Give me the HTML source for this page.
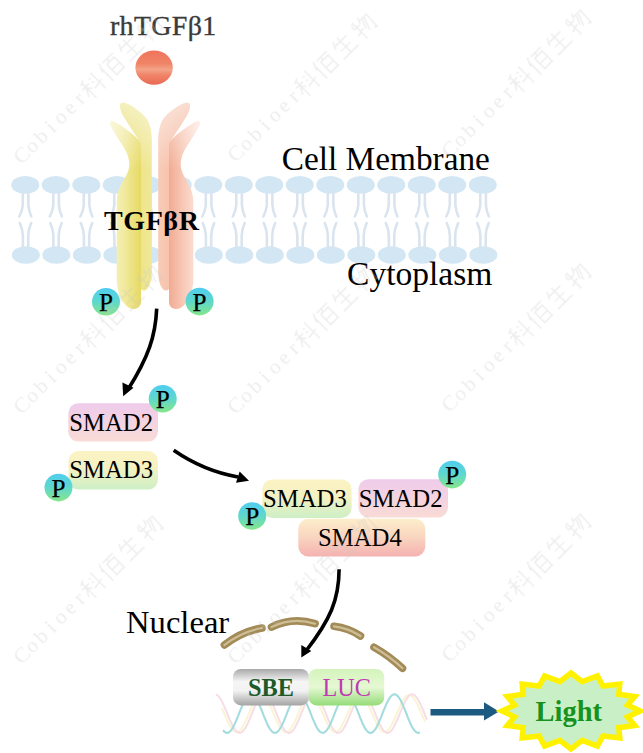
<!DOCTYPE html>
<html><head><meta charset="utf-8">
<style>
html,body{margin:0;padding:0;background:#fff;}
body{width:643px;height:753px;overflow:hidden;}
svg{display:block;}
text{font-family:"Liberation Serif",serif;}
</style></head>
<body>
<svg width="643" height="753" viewBox="0 0 643 753">
<defs>
  <linearGradient id="gP" x1="0" y1="0" x2="0" y2="1">
    <stop offset="0" stop-color="#4fcdf0"/>
    <stop offset="0.5" stop-color="#5fd8cc"/>
    <stop offset="1" stop-color="#86e68a"/>
  </linearGradient>
  <linearGradient id="gBall" x1="0" y1="0" x2="0" y2="1">
    <stop offset="0" stop-color="#f0735b"/>
    <stop offset="0.38" stop-color="#f08467"/>
    <stop offset="0.56" stop-color="#f3a387"/>
    <stop offset="0.72" stop-color="#f08468"/>
    <stop offset="1" stop-color="#ea6a55"/>
  </linearGradient>
  <linearGradient id="gYF" x1="0" y1="0" x2="1" y2="0">
    <stop offset="0" stop-color="#f7f3c6"/>
    <stop offset="0.45" stop-color="#f1eaa0"/>
    <stop offset="0.85" stop-color="#e9de72"/>
    <stop offset="1" stop-color="#e6d966"/>
  </linearGradient>
  <linearGradient id="gYB" x1="0" y1="0" x2="1" y2="0">
    <stop offset="0" stop-color="#e9dd70"/>
    <stop offset="1" stop-color="#f0e898"/>
  </linearGradient>
  <linearGradient id="gSF" x1="0" y1="0" x2="1" y2="0">
    <stop offset="0" stop-color="#fde7df"/>
    <stop offset="0.45" stop-color="#f9cebe"/>
    <stop offset="1" stop-color="#f1ab92"/>
  </linearGradient>
  <linearGradient id="gSB" x1="0" y1="0" x2="1" y2="0">
    <stop offset="0" stop-color="#f3b59c"/>
    <stop offset="1" stop-color="#f8cbb6"/>
  </linearGradient>
  <linearGradient id="gFade" gradientUnits="userSpaceOnUse" x1="0" y1="100" x2="0" y2="170">
    <stop offset="0" stop-color="#fff" stop-opacity="0.55"/>
    <stop offset="1" stop-color="#fff" stop-opacity="0"/>
  </linearGradient>
  <linearGradient id="gPink" x1="0" y1="0" x2="0" y2="1">
    <stop offset="0" stop-color="#efcbeb"/>
    <stop offset="1" stop-color="#f9dbd6"/>
  </linearGradient>
  <linearGradient id="gYG" x1="0" y1="0" x2="0" y2="1">
    <stop offset="0" stop-color="#fcf3c4"/>
    <stop offset="0.45" stop-color="#f5f1c2"/>
    <stop offset="1" stop-color="#cdefc6"/>
  </linearGradient>
  <linearGradient id="gS4" x1="0" y1="0" x2="0" y2="1">
    <stop offset="0" stop-color="#fdeecb"/>
    <stop offset="0.5" stop-color="#f9d4bf"/>
    <stop offset="1" stop-color="#f4b2b0"/>
  </linearGradient>
  <linearGradient id="gSBE" x1="0" y1="0" x2="0" y2="1">
    <stop offset="0" stop-color="#a9a9a9"/>
    <stop offset="0.35" stop-color="#f6f6f6"/>
    <stop offset="0.6" stop-color="#f2f2f2"/>
    <stop offset="1" stop-color="#a4a4a4"/>
  </linearGradient>
  <linearGradient id="gLUC" x1="0" y1="0" x2="0" y2="1">
    <stop offset="0" stop-color="#d4f4bc"/>
    <stop offset="0.5" stop-color="#e6f8d4"/>
    <stop offset="1" stop-color="#94dc78"/>
  </linearGradient>
</defs>

<!-- membrane -->
<g id="mem">
<ellipse cx="25.25" cy="184.9" rx="14" ry="8.9" fill="#d2e6f4"/>
<ellipse cx="25.85" cy="255" rx="14" ry="8.8" fill="#d2e6f4"/>
<path d="M22.80,194 L22.80,205 Q22.30,211 19.30,216.5 M28.40,194 L28.40,205 Q28.80,211 31.40,216.5" stroke="#dae4ef" stroke-width="2.6" fill="none" stroke-linecap="round"/>
<path d="M19.80,223 Q22.60,229 22.90,236 L22.90,247 M31.20,223 Q28.40,229 28.20,236 L28.20,247" stroke="#dae4ef" stroke-width="2.6" fill="none" stroke-linecap="round"/>
<ellipse cx="55.75" cy="184.9" rx="14" ry="8.9" fill="#d2e6f4"/>
<ellipse cx="56.35" cy="255" rx="14" ry="8.8" fill="#d2e6f4"/>
<path d="M53.30,194 L53.30,205 Q52.80,211 49.80,216.5 M58.90,194 L58.90,205 Q59.30,211 61.90,216.5" stroke="#dae4ef" stroke-width="2.6" fill="none" stroke-linecap="round"/>
<path d="M50.30,223 Q53.10,229 53.40,236 L53.40,247 M61.70,223 Q58.90,229 58.70,236 L58.70,247" stroke="#dae4ef" stroke-width="2.6" fill="none" stroke-linecap="round"/>
<ellipse cx="86.25" cy="184.9" rx="14" ry="8.9" fill="#d2e6f4"/>
<ellipse cx="86.85" cy="255" rx="14" ry="8.8" fill="#d2e6f4"/>
<path d="M83.80,194 L83.80,205 Q83.30,211 80.30,216.5 M89.40,194 L89.40,205 Q89.80,211 92.40,216.5" stroke="#dae4ef" stroke-width="2.6" fill="none" stroke-linecap="round"/>
<path d="M80.80,223 Q83.60,229 83.90,236 L83.90,247 M92.20,223 Q89.40,229 89.20,236 L89.20,247" stroke="#dae4ef" stroke-width="2.6" fill="none" stroke-linecap="round"/>
<ellipse cx="116.75" cy="184.9" rx="14" ry="8.9" fill="#d2e6f4"/>
<ellipse cx="117.35" cy="255" rx="14" ry="8.8" fill="#d2e6f4"/>
<path d="M114.30,194 L114.30,205 Q113.80,211 110.80,216.5 M119.90,194 L119.90,205 Q120.30,211 122.90,216.5" stroke="#dae4ef" stroke-width="2.6" fill="none" stroke-linecap="round"/>
<path d="M111.30,223 Q114.10,229 114.40,236 L114.40,247 M122.70,223 Q119.90,229 119.70,236 L119.70,247" stroke="#dae4ef" stroke-width="2.6" fill="none" stroke-linecap="round"/>
<ellipse cx="147.25" cy="184.9" rx="14" ry="8.9" fill="#d2e6f4"/>
<ellipse cx="147.85" cy="255" rx="14" ry="8.8" fill="#d2e6f4"/>
<path d="M144.80,194 L144.80,205 Q144.30,211 141.30,216.5 M150.40,194 L150.40,205 Q150.80,211 153.40,216.5" stroke="#dae4ef" stroke-width="2.6" fill="none" stroke-linecap="round"/>
<path d="M141.80,223 Q144.60,229 144.90,236 L144.90,247 M153.20,223 Q150.40,229 150.20,236 L150.20,247" stroke="#dae4ef" stroke-width="2.6" fill="none" stroke-linecap="round"/>
<ellipse cx="177.75" cy="184.9" rx="14" ry="8.9" fill="#d2e6f4"/>
<ellipse cx="178.35" cy="255" rx="14" ry="8.8" fill="#d2e6f4"/>
<path d="M175.30,194 L175.30,205 Q174.80,211 171.80,216.5 M180.90,194 L180.90,205 Q181.30,211 183.90,216.5" stroke="#dae4ef" stroke-width="2.6" fill="none" stroke-linecap="round"/>
<path d="M172.30,223 Q175.10,229 175.40,236 L175.40,247 M183.70,223 Q180.90,229 180.70,236 L180.70,247" stroke="#dae4ef" stroke-width="2.6" fill="none" stroke-linecap="round"/>
<ellipse cx="208.25" cy="184.9" rx="14" ry="8.9" fill="#d2e6f4"/>
<ellipse cx="208.85" cy="255" rx="14" ry="8.8" fill="#d2e6f4"/>
<path d="M205.80,194 L205.80,205 Q205.30,211 202.30,216.5 M211.40,194 L211.40,205 Q211.80,211 214.40,216.5" stroke="#dae4ef" stroke-width="2.6" fill="none" stroke-linecap="round"/>
<path d="M202.80,223 Q205.60,229 205.90,236 L205.90,247 M214.20,223 Q211.40,229 211.20,236 L211.20,247" stroke="#dae4ef" stroke-width="2.6" fill="none" stroke-linecap="round"/>
<ellipse cx="238.75" cy="184.9" rx="14" ry="8.9" fill="#d2e6f4"/>
<ellipse cx="239.35" cy="255" rx="14" ry="8.8" fill="#d2e6f4"/>
<path d="M236.30,194 L236.30,205 Q235.80,211 232.80,216.5 M241.90,194 L241.90,205 Q242.30,211 244.90,216.5" stroke="#dae4ef" stroke-width="2.6" fill="none" stroke-linecap="round"/>
<path d="M233.30,223 Q236.10,229 236.40,236 L236.40,247 M244.70,223 Q241.90,229 241.70,236 L241.70,247" stroke="#dae4ef" stroke-width="2.6" fill="none" stroke-linecap="round"/>
<ellipse cx="269.25" cy="184.9" rx="14" ry="8.9" fill="#d2e6f4"/>
<ellipse cx="269.85" cy="255" rx="14" ry="8.8" fill="#d2e6f4"/>
<path d="M266.80,194 L266.80,205 Q266.30,211 263.30,216.5 M272.40,194 L272.40,205 Q272.80,211 275.40,216.5" stroke="#dae4ef" stroke-width="2.6" fill="none" stroke-linecap="round"/>
<path d="M263.80,223 Q266.60,229 266.90,236 L266.90,247 M275.20,223 Q272.40,229 272.20,236 L272.20,247" stroke="#dae4ef" stroke-width="2.6" fill="none" stroke-linecap="round"/>
<ellipse cx="299.75" cy="184.9" rx="14" ry="8.9" fill="#d2e6f4"/>
<ellipse cx="300.35" cy="255" rx="14" ry="8.8" fill="#d2e6f4"/>
<path d="M297.30,194 L297.30,205 Q296.80,211 293.80,216.5 M302.90,194 L302.90,205 Q303.30,211 305.90,216.5" stroke="#dae4ef" stroke-width="2.6" fill="none" stroke-linecap="round"/>
<path d="M294.30,223 Q297.10,229 297.40,236 L297.40,247 M305.70,223 Q302.90,229 302.70,236 L302.70,247" stroke="#dae4ef" stroke-width="2.6" fill="none" stroke-linecap="round"/>
<ellipse cx="330.25" cy="184.9" rx="14" ry="8.9" fill="#d2e6f4"/>
<ellipse cx="330.85" cy="255" rx="14" ry="8.8" fill="#d2e6f4"/>
<path d="M327.80,194 L327.80,205 Q327.30,211 324.30,216.5 M333.40,194 L333.40,205 Q333.80,211 336.40,216.5" stroke="#dae4ef" stroke-width="2.6" fill="none" stroke-linecap="round"/>
<path d="M324.80,223 Q327.60,229 327.90,236 L327.90,247 M336.20,223 Q333.40,229 333.20,236 L333.20,247" stroke="#dae4ef" stroke-width="2.6" fill="none" stroke-linecap="round"/>
<ellipse cx="360.75" cy="184.9" rx="14" ry="8.9" fill="#d2e6f4"/>
<ellipse cx="361.35" cy="255" rx="14" ry="8.8" fill="#d2e6f4"/>
<path d="M358.30,194 L358.30,205 Q357.80,211 354.80,216.5 M363.90,194 L363.90,205 Q364.30,211 366.90,216.5" stroke="#dae4ef" stroke-width="2.6" fill="none" stroke-linecap="round"/>
<path d="M355.30,223 Q358.10,229 358.40,236 L358.40,247 M366.70,223 Q363.90,229 363.70,236 L363.70,247" stroke="#dae4ef" stroke-width="2.6" fill="none" stroke-linecap="round"/>
<ellipse cx="391.25" cy="184.9" rx="14" ry="8.9" fill="#d2e6f4"/>
<ellipse cx="391.85" cy="255" rx="14" ry="8.8" fill="#d2e6f4"/>
<path d="M388.80,194 L388.80,205 Q388.30,211 385.30,216.5 M394.40,194 L394.40,205 Q394.80,211 397.40,216.5" stroke="#dae4ef" stroke-width="2.6" fill="none" stroke-linecap="round"/>
<path d="M385.80,223 Q388.60,229 388.90,236 L388.90,247 M397.20,223 Q394.40,229 394.20,236 L394.20,247" stroke="#dae4ef" stroke-width="2.6" fill="none" stroke-linecap="round"/>
<ellipse cx="421.75" cy="184.9" rx="14" ry="8.9" fill="#d2e6f4"/>
<ellipse cx="422.35" cy="255" rx="14" ry="8.8" fill="#d2e6f4"/>
<path d="M419.30,194 L419.30,205 Q418.80,211 415.80,216.5 M424.90,194 L424.90,205 Q425.30,211 427.90,216.5" stroke="#dae4ef" stroke-width="2.6" fill="none" stroke-linecap="round"/>
<path d="M416.30,223 Q419.10,229 419.40,236 L419.40,247 M427.70,223 Q424.90,229 424.70,236 L424.70,247" stroke="#dae4ef" stroke-width="2.6" fill="none" stroke-linecap="round"/>
<ellipse cx="452.25" cy="184.9" rx="14" ry="8.9" fill="#d2e6f4"/>
<ellipse cx="452.85" cy="255" rx="14" ry="8.8" fill="#d2e6f4"/>
<path d="M449.80,194 L449.80,205 Q449.30,211 446.30,216.5 M455.40,194 L455.40,205 Q455.80,211 458.40,216.5" stroke="#dae4ef" stroke-width="2.6" fill="none" stroke-linecap="round"/>
<path d="M446.80,223 Q449.60,229 449.90,236 L449.90,247 M458.20,223 Q455.40,229 455.20,236 L455.20,247" stroke="#dae4ef" stroke-width="2.6" fill="none" stroke-linecap="round"/>
<ellipse cx="482.75" cy="184.9" rx="14" ry="8.9" fill="#d2e6f4"/>
<ellipse cx="483.35" cy="255" rx="14" ry="8.8" fill="#d2e6f4"/>
<path d="M480.30,194 L480.30,205 Q479.80,211 476.80,216.5 M485.90,194 L485.90,205 Q486.30,211 488.90,216.5" stroke="#dae4ef" stroke-width="2.6" fill="none" stroke-linecap="round"/>
<path d="M477.30,223 Q480.10,229 480.40,236 L480.40,247 M488.70,223 Q485.90,229 485.70,236 L485.70,247" stroke="#dae4ef" stroke-width="2.6" fill="none" stroke-linecap="round"/>
</g>

<!-- ligand -->
<text x="110" y="35.2" font-size="28" letter-spacing="0.3" fill="#3a3a3a" stroke="#3a3a3a" stroke-width="0.35">rhTGFβ1</text>
<ellipse cx="154.1" cy="67.6" rx="18.7" ry="17.1" fill="url(#gBall)"/>

<!-- receptor yellow -->
<g id="recY">
  <path d="M120.2,106 C119.8,103 122,102.3 125,103 C133,106 141,112 146,118 C149.5,122.5 151.5,130 151.8,140 L151.8,272 C151.8,283 148,290.5 144,290.5 C141,290.5 140,288 140,285 L140,145 C139.5,141.5 138.8,140 137.7,138.5 C133,131 125.5,120 122,113.5 C121,111 120.2,108.5 120.2,106 Z" fill="url(#gYB)"/>
  <path d="M120.2,106 C119.8,103 122,102.3 125,103 C133,106 141,112 146,118 C149.5,122.5 151.5,130 151.8,140 L151.8,272 C151.8,283 148,290.5 144,290.5 C141,290.5 140,288 140,285 L140,145 C139.5,141.5 138.8,140 137.7,138.5 C133,131 125.5,120 122,113.5 C121,111 120.2,108.5 120.2,106 Z" fill="url(#gFade)"/>
  <path d="M110,123.5 C111,127.5 116,135 120,141.5 C125,149 129.3,156 129.3,164 C129.3,171 126,176 122,183 C118.5,189 116.7,195 116.7,203 L116.7,279 C116.7,296 126,309 133.5,309 C137.5,309 141,306.5 141,302 L141,145 C140.5,142.5 139.5,140.5 137.7,139 C132,133 122,126 114,121.5 C111.5,120.3 109.6,121.3 110,123.5 Z" fill="url(#gYF)"/>
  <path d="M110,123.5 C111,127.5 116,135 120,141.5 C125,149 129.3,156 129.3,164 C129.3,171 126,176 122,183 C118.5,189 116.7,195 116.7,203 L116.7,279 C116.7,296 126,309 133.5,309 C137.5,309 141,306.5 141,302 L141,145 C140.5,142.5 139.5,140.5 137.7,139 C132,133 122,126 114,121.5 C111.5,120.3 109.6,121.3 110,123.5 Z" fill="url(#gFade)"/>
</g>
<g transform="translate(310,0) scale(-1,1)">
  <path d="M120.2,106 C119.8,103 122,102.3 125,103 C133,106 141,112 146,118 C149.5,122.5 151.5,130 151.8,140 L151.8,272 C151.8,283 148,290.5 144,290.5 C141,290.5 140,288 140,285 L140,145 C139.5,141.5 138.8,140 137.7,138.5 C133,131 125.5,120 122,113.5 C121,111 120.2,108.5 120.2,106 Z" fill="url(#gSB)"/>
  <path d="M120.2,106 C119.8,103 122,102.3 125,103 C133,106 141,112 146,118 C149.5,122.5 151.5,130 151.8,140 L151.8,272 C151.8,283 148,290.5 144,290.5 C141,290.5 140,288 140,285 L140,145 C139.5,141.5 138.8,140 137.7,138.5 C133,131 125.5,120 122,113.5 C121,111 120.2,108.5 120.2,106 Z" fill="url(#gFade)"/>
  <path d="M110,123.5 C111,127.5 116,135 120,141.5 C125,149 129.3,156 129.3,164 C129.3,171 126,176 122,183 C118.5,189 116.7,195 116.7,203 L116.7,279 C116.7,296 126,309 133.5,309 C137.5,309 141,306.5 141,302 L141,145 C140.5,142.5 139.5,140.5 137.7,139 C132,133 122,126 114,121.5 C111.5,120.3 109.6,121.3 110,123.5 Z" fill="url(#gSF)"/>
  <path d="M110,123.5 C111,127.5 116,135 120,141.5 C125,149 129.3,156 129.3,164 C129.3,171 126,176 122,183 C118.5,189 116.7,195 116.7,203 L116.7,279 C116.7,296 126,309 133.5,309 C137.5,309 141,306.5 141,302 L141,145 C140.5,142.5 139.5,140.5 137.7,139 C132,133 122,126 114,121.5 C111.5,120.3 109.6,121.3 110,123.5 Z" fill="url(#gFade)"/>
</g>

<text x="104" y="230.3" font-size="28" font-weight="bold" letter-spacing="0.6" fill="#000">TGFβR</text>
<text x="281.8" y="169.6" font-size="33.3" fill="#000">Cell Membrane</text>
<text x="347.1" y="285" font-size="33.5" fill="#000">Cytoplasm</text>

<!-- arrows -->
<path d="M156.7,308.6 C155.5,336 148.5,357 128,389.5" fill="none" stroke="#000" stroke-width="3.6"/>
<path d="M123.2,396.3 L122.4,382.6 L133.5,387.8 Z" fill="#000"/>

<path d="M173.7,450.3 C195,465 215,473 238,477" fill="none" stroke="#000" stroke-width="3.6"/>
<path d="M249,480.7 L239.6,471.6 L236,482.8 Z" fill="#000"/>

<path d="M339.1,569.3 C339,600 330,620 306,651" fill="none" stroke="#000" stroke-width="3.6"/>
<path d="M301.3,657.6 L301.3,645 L311.3,651 Z" fill="#000"/>

<!-- SMAD boxes left -->
<rect x="68.3" y="403.2" width="89.7" height="38.4" rx="10" fill="url(#gPink)"/>
<text x="69.3" y="430.8" font-size="24.7" fill="#000">SMAD2</text>
<rect x="68.5" y="451.1" width="89.5" height="38.5" rx="10" fill="url(#gYG)"/>
<text x="69.3" y="478.2" font-size="24.7" fill="#000">SMAD3</text>

<!-- complex -->
<rect x="262.3" y="479.4" width="89.3" height="38.5" rx="10" fill="url(#gYG)"/>
<text x="263.1" y="506.7" font-size="24.7" fill="#000">SMAD3</text>
<rect x="358.4" y="479.2" width="89.6" height="38.2" rx="10" fill="url(#gPink)"/>
<text x="358.8" y="506.6" font-size="24.7" fill="#000">SMAD2</text>
<rect x="298.3" y="518.8" width="127" height="37.6" rx="10" fill="url(#gS4)"/>
<text x="318.1" y="546" font-size="24.7" fill="#000">SMAD4</text>

<!-- P circles -->
<g id="Ps" font-size="25.2" text-anchor="middle">
  <ellipse cx="106" cy="301.8" rx="14" ry="13.8" fill="url(#gP)"/><text x="106" y="311.0" stroke="#000" stroke-width="0.25">P</text>
  <ellipse cx="199.6" cy="301.6" rx="14" ry="13.8" fill="url(#gP)"/><text x="199.6" y="310.8" stroke="#000" stroke-width="0.25">P</text>
  <ellipse cx="162.7" cy="398.7" rx="14" ry="13.8" fill="url(#gP)"/><text x="162.7" y="407.9" stroke="#000" stroke-width="0.25">P</text>
  <ellipse cx="58.5" cy="487.6" rx="14" ry="13.8" fill="url(#gP)"/><text x="58.5" y="496.8" stroke="#000" stroke-width="0.25">P</text>
  <ellipse cx="252.2" cy="516" rx="14" ry="13.8" fill="url(#gP)"/><text x="252.2" y="525.2" stroke="#000" stroke-width="0.25">P</text>
  <ellipse cx="452.2" cy="474.6" rx="14" ry="13.8" fill="url(#gP)"/><text x="452.2" y="483.8" stroke="#000" stroke-width="0.25">P</text>
</g>

<!-- nucleus -->
<text x="126.1" y="632.8" font-size="32.6" fill="#000">Nuclear</text>
<g fill="none" stroke-linecap="round">
  <g stroke="#a38b58" stroke-width="7.6">
    <path d="M224.4,645 Q241.6,631.5 262,628"/>
    <path d="M271.5,627.1 Q292.3,616.8 315.1,623.7"/>
    <path d="M334,626.3 Q348.5,628 360.5,636"/>
    <path d="M374,647.2 Q389.5,656 402.5,668.3"/>
  </g>
  <g stroke="#cdbe96" stroke-width="2.2">
    <path d="M224.4,645 Q241.6,631.5 262,628"/>
    <path d="M271.5,627.1 Q292.3,616.8 315.1,623.7"/>
    <path d="M334,626.3 Q348.5,628 360.5,636"/>
    <path d="M374,647.2 Q389.5,656 402.5,668.3"/>
  </g>
</g>

<!-- DNA -->
<g id="dna" fill="none" stroke-width="2.6"><polyline points="222.0,708.3 223.0,710.6 224.0,713.0 225.0,715.3 226.0,717.6 227.0,719.9 228.0,722.1 229.0,724.1 230.0,725.9 231.0,727.6 232.0,729.0 233.0,730.2 234.0,731.1 235.0,731.7 236.0,732.0 237.0,732.1 238.0,731.8 239.0,731.2 240.0,730.4 241.0,729.3 242.0,727.9 243.0,726.3 244.0,724.5 245.0,722.5 246.0,720.3 247.0,718.1 248.0,715.8 249.0,713.4 250.0,711.1 251.0,708.8 252.0,706.5 253.0,704.4 254.0,702.5 255.0,700.7 256.0,699.1 257.0,697.7 258.0,696.7 259.0,695.9 260.0,695.3 261.0,695.1 262.0,695.2 263.0,695.6 264.0,696.2 265.0,697.2 266.0,698.4 267.0,699.8 268.0,701.5 269.0,703.4 270.0,705.5 271.0,707.6 272.0,709.9 273.0,712.2 274.0,714.6 275.0,716.9 276.0,719.2 277.0,721.4 278.0,723.5 279.0,725.4 280.0,727.1 281.0,728.6 282.0,729.9 283.0,730.9 284.0,731.6 285.0,732.0 286.0,732.1 287.0,731.9 288.0,731.4 289.0,730.7 290.0,729.6 291.0,728.3 292.0,726.8 293.0,725.0 294.0,723.1 295.0,721.0 296.0,718.8 297.0,716.5 298.0,714.1 299.0,711.8 300.0,709.5 301.0,707.2 302.0,705.0 303.0,703.0 304.0,701.2 305.0,699.5 306.0,698.1 307.0,697.0 308.0,696.1 309.0,695.5 310.0,695.1 311.0,695.1 312.0,695.4 313.0,696.0 314.0,696.9 315.0,698.0 316.0,699.4 317.0,701.0 318.0,702.8 319.0,704.8 320.0,707.0 321.0,709.2 322.0,711.5 323.0,713.9 324.0,716.2 325.0,718.5 326.0,720.8 327.0,722.9 328.0,724.8 329.0,726.6 330.0,728.2 331.0,729.5 332.0,730.6 333.0,731.4 334.0,731.9 335.0,732.1 336.0,732.0 337.0,731.6 338.0,730.9 339.0,730.0 340.0,728.7 341.0,727.3 342.0,725.6 343.0,723.7 344.0,721.6 345.0,719.5 346.0,717.2 347.0,714.8 348.0,712.5 349.0,710.1 350.0,707.9 351.0,705.7 352.0,703.6 353.0,701.7 354.0,700.0 355.0,698.5 356.0,697.3 357.0,696.3 358.0,695.6 359.0,695.2 360.0,695.1 361.0,695.3 362.0,695.8 363.0,696.6 364.0,697.6 365.0,698.9 366.0,700.5 367.0,702.3 368.0,704.2 369.0,706.3 370.0,708.5 371.0,710.8 372.0,713.2 373.0,715.5 374.0,717.9 375.0,720.1 376.0,722.3 377.0,724.3 378.0,726.1 379.0,727.7 380.0,729.1 381.0,730.3 382.0,731.2 383.0,731.8 384.0,732.1 385.0,732.1 386.0,731.8 387.0,731.2 388.0,730.3 389.0,729.1 390.0,727.7 391.0,726.1 392.0,724.3 393.0,722.3 394.0,720.1 395.0,717.9 396.0,715.5 397.0,713.2 398.0,710.8 399.0,708.5 400.0,706.3 401.0,704.2 402.0,702.3 403.0,700.5 404.0,698.9 405.0,697.6 406.0,696.6 407.0,695.8 408.0,695.3 409.0,695.1 410.0,695.2 411.0,695.6 412.0,696.3 413.0,697.3 414.0,698.5 415.0,700.0 416.0,701.7 417.0,703.6 418.0,705.7 419.0,707.9 420.0,710.1 421.0,712.5 422.0,714.8 423.0,717.2 424.0,719.5 425.0,721.6" stroke="#f9f4d2" stroke-width="2.0"/><polyline points="216.0,694.5 217.0,695.0 218.0,695.7 219.0,696.8 220.0,698.2 221.0,699.8 222.0,701.6 223.0,703.6 224.0,705.8 225.0,708.1 226.0,710.5 227.0,712.9 228.0,715.4 229.0,717.8 230.0,720.2 231.0,722.4 232.0,724.5 233.0,726.5 234.0,728.2 235.0,729.7 236.0,730.9 237.0,731.9 238.0,732.5 239.0,732.8 240.0,732.9 241.0,732.6 242.0,732.0 243.0,731.1 244.0,729.9 245.0,728.5 246.0,726.8 247.0,724.9 248.0,722.9 249.0,720.6 250.0,718.3 251.0,715.9 252.0,713.4 253.0,711.0 254.0,708.6 255.0,706.2 256.0,704.0 257.0,702.0 258.0,700.1 259.0,698.5 260.0,697.1 261.0,695.9 262.0,695.1 263.0,694.5 264.0,694.3 265.0,694.4 266.0,694.8 267.0,695.5 268.0,696.5 269.0,697.7 270.0,699.3 271.0,701.0 272.0,703.0 273.0,705.1 274.0,707.4 275.0,709.8 276.0,712.2 277.0,714.6 278.0,717.1 279.0,719.5 280.0,721.8 281.0,723.9 282.0,725.9 283.0,727.7 284.0,729.3 285.0,730.6 286.0,731.6 287.0,732.3 288.0,732.8 289.0,732.9 290.0,732.7 291.0,732.2 292.0,731.4 293.0,730.3 294.0,729.0 295.0,727.4 296.0,725.5 297.0,723.5 298.0,721.3 299.0,719.0 300.0,716.6 301.0,714.2 302.0,711.7 303.0,709.3 304.0,706.9 305.0,704.7 306.0,702.6 307.0,700.6 308.0,698.9 309.0,697.5 310.0,696.2 311.0,695.3 312.0,694.7 313.0,694.3 314.0,694.3 315.0,694.6 316.0,695.2 317.0,696.1 318.0,697.3 319.0,698.8 320.0,700.5 321.0,702.4 322.0,704.5 323.0,706.7 324.0,709.0 325.0,711.5 326.0,713.9 327.0,716.4 328.0,718.8 329.0,721.1 330.0,723.3 331.0,725.3 332.0,727.2 333.0,728.8 334.0,730.2 335.0,731.3 336.0,732.1 337.0,732.7 338.0,732.9 339.0,732.8 340.0,732.4 341.0,731.7 342.0,730.7 343.0,729.4 344.0,727.9 345.0,726.1 346.0,724.1 347.0,722.0 348.0,719.7 349.0,717.3 350.0,714.9 351.0,712.4 352.0,710.0 353.0,707.6 354.0,705.3 355.0,703.2 356.0,701.2 357.0,699.4 358.0,697.9 359.0,696.6 360.0,695.6 361.0,694.8 362.0,694.4 363.0,694.3 364.0,694.5 365.0,695.0 366.0,695.8 367.0,696.9 368.0,698.3 369.0,699.9 370.0,701.8 371.0,703.8 372.0,706.0 373.0,708.3 374.0,710.7 375.0,713.2 376.0,715.6 377.0,718.0 378.0,720.4 379.0,722.6 380.0,724.7 381.0,726.6 382.0,728.3 383.0,729.8 384.0,731.0 385.0,731.9 386.0,732.5 387.0,732.9 388.0,732.9 389.0,732.5 390.0,731.9 391.0,731.0 392.0,729.8 393.0,728.3 394.0,726.6 395.0,724.7 396.0,722.6 397.0,720.4 398.0,718.0 399.0,715.6 400.0,713.2 401.0,710.7 402.0,708.3 403.0,706.0 404.0,703.8 405.0,701.8 406.0,699.9 407.0,698.3 408.0,696.9 409.0,695.8 410.0,695.0 411.0,694.5 412.0,694.3 413.0,694.4 414.0,694.8 415.0,695.6 416.0,696.6 417.0,697.9 418.0,699.4 419.0,701.2 420.0,703.2 421.0,705.3 422.0,707.6 423.0,710.0 424.0,712.4 425.0,714.9 426.0,717.3 427.0,719.7" stroke="#f6dde6" stroke-width="2.0"/><polyline points="223.0,730.2 224.0,731.3 225.0,732.2 226.0,732.7 227.0,732.9 228.0,732.8 229.0,732.3 230.0,731.5 231.0,730.4 232.0,729.0 233.0,727.4 234.0,725.5 235.0,723.4 236.0,721.1 237.0,718.7 238.0,716.3 239.0,713.7 240.0,711.2 241.0,708.7 242.0,706.3 243.0,704.0 244.0,701.9 245.0,700.0 246.0,698.3 247.0,696.9 248.0,695.8 249.0,695.0 250.0,694.5 251.0,694.3 252.0,694.5 253.0,695.0 254.0,695.8 255.0,696.9 256.0,698.3 257.0,700.0 258.0,701.9 259.0,704.0 260.0,706.3 261.0,708.7 262.0,711.2 263.0,713.7 264.0,716.3 265.0,718.7 266.0,721.1 267.0,723.4 268.0,725.5 269.0,727.4 270.0,729.0 271.0,730.4 272.0,731.5 273.0,732.3 274.0,732.8 275.0,732.9 276.0,732.7 277.0,732.2 278.0,731.3 279.0,730.2 280.0,728.7 281.0,727.0 282.0,725.1 283.0,723.0 284.0,720.7 285.0,718.2 286.0,715.8 287.0,713.2 288.0,710.7 289.0,708.2 290.0,705.8 291.0,703.6 292.0,701.5 293.0,699.6 294.0,698.0 295.0,696.7 296.0,695.6 297.0,694.8 298.0,694.4 299.0,694.3 300.0,694.5 301.0,695.1 302.0,696.0 303.0,697.2 304.0,698.6 305.0,700.4 306.0,702.3 307.0,704.5 308.0,706.8 309.0,709.2 310.0,711.7 311.0,714.2 312.0,716.8 313.0,719.2 314.0,721.6 315.0,723.8 316.0,725.9 317.0,727.7 318.0,729.3 319.0,730.7 320.0,731.7 321.0,732.4 322.0,732.8 323.0,732.9 324.0,732.6 325.0,732.0 326.0,731.1 327.0,729.9 328.0,728.4 329.0,726.7 330.0,724.7 331.0,722.5 332.0,720.2 333.0,717.8 334.0,715.2 335.0,712.7 336.0,710.2 337.0,707.7 338.0,705.4 339.0,703.2 340.0,701.1 341.0,699.3 342.0,697.7 343.0,696.4 344.0,695.4 345.0,694.7 346.0,694.4 347.0,694.3 348.0,694.6 349.0,695.3 350.0,696.2 351.0,697.4 352.0,699.0 353.0,700.7 354.0,702.7 355.0,704.9 356.0,707.3 357.0,709.7 358.0,712.2 359.0,714.7 360.0,717.3 361.0,719.7 362.0,722.1 363.0,724.3 364.0,726.3 365.0,728.1 366.0,729.6 367.0,730.9 368.0,731.9 369.0,732.5 370.0,732.9 371.0,732.9 372.0,732.5 373.0,731.9 374.0,730.9 375.0,729.6 376.0,728.1 377.0,726.3 378.0,724.3 379.0,722.1 380.0,719.7 381.0,717.3 382.0,714.7 383.0,712.2 384.0,709.7 385.0,707.3 386.0,704.9 387.0,702.7 388.0,700.7 389.0,699.0 390.0,697.4 391.0,696.2 392.0,695.3 393.0,694.6 394.0,694.3 395.0,694.4 396.0,694.7 397.0,695.4 398.0,696.4 399.0,697.7 400.0,699.3 401.0,701.1 402.0,703.2 403.0,705.4 404.0,707.7 405.0,710.2 406.0,712.7 407.0,715.2 408.0,717.8 409.0,720.2 410.0,722.5 411.0,724.7 412.0,726.7 413.0,728.4 414.0,729.9 415.0,731.1 416.0,732.0 417.0,732.6 418.0,732.9 419.0,732.8 420.0,732.4" stroke="#a4dcdd" stroke-width="2.1"/></g>

<rect x="233" y="669" width="76" height="36.4" rx="8" fill="url(#gSBE)"/>
<rect x="308.6" y="669" width="75.6" height="36.4" rx="8" fill="url(#gLUC)"/>
<text x="248" y="696.1" font-size="24.3" font-weight="bold" fill="#1d5a2a">SBE</text>
<text x="322.4" y="696" font-size="24.2" fill="#c03ab0">LUC</text>

<!-- light arrow -->
<path d="M430.5,709 L484,709 L484,702.3 L499,711.5 L484,720.5 L484,715.5 L430.5,715.5 Z" fill="#1c5a80"/>

<!-- star -->
<path id="star" d="M571.0,673.0 L582.2,681.6 L597.4,675.9 L602.9,686.1 L619.8,684.1 L618.8,694.3 L634.7,696.5 L627.4,705.1 L640.0,711.0 L627.4,716.9 L634.7,725.5 L618.8,727.7 L619.8,737.9 L602.9,735.9 L597.4,746.1 L582.2,740.4 L571.0,749.0 L559.8,740.4 L544.6,746.1 L539.1,735.9 L522.2,737.9 L523.2,727.7 L507.3,725.5 L514.6,716.9 L502.0,711.0 L514.6,705.1 L507.3,696.5 L523.2,694.3 L522.2,684.1 L539.1,686.1 L544.6,675.9 L559.8,681.6 Z" fill="#c9efc6" stroke="#fff200" stroke-width="5.5" stroke-linejoin="miter"/>
<text x="535.5" y="721.3" font-size="28.5" font-weight="bold" fill="#17921c">Light</text>
<g fill="#c8c8c8" stroke="#c8c8c8" stroke-width="0" opacity="0.32"><g><g transform="translate(22,165) rotate(-45)"><text x="6.75" y="0" text-anchor="middle" font-size="22">C</text><text x="20.25" y="0" text-anchor="middle" font-size="21">o</text><text x="33.75" y="0" text-anchor="middle" font-size="21">b</text><text x="47.25" y="0" text-anchor="middle" font-size="21">i</text><text x="60.75" y="0" text-anchor="middle" font-size="21">o</text><text x="74.25" y="0" text-anchor="middle" font-size="21">e</text><text x="87.75" y="0" text-anchor="middle" font-size="21">r</text><path transform="translate(94.5,3) scale(0.95)" d="M9,-21 L3,-18 M1,-14 L11,-14 M6,-19 L6,2 M6,-13 L1,-4 M6,-12 L10,-8 M14,-18 L16,-16 M14,-13 L16,-11 M12,-6 L24,-8 M20,-21 L20,2" fill="none" stroke-width="1.5"/><path transform="translate(121.5,3) scale(0.95)" d="M5,-21 L1,-12 M3,-15 L3,2 M8,-19 L23,-19 M15,-19 L13,-15 M10,-15 L10,1 M10,-15 L21,-15 L21,1 M10,-7 L21,-7 M10,0 L21,0" fill="none" stroke-width="1.5"/><path transform="translate(148.5,3) scale(0.95)" d="M6,-21 L2,-13 M4,-16 L21,-16 M12,-21 L12,0 M5,-8 L19,-8 M1,0 L23,0" fill="none" stroke-width="1.5"/><path transform="translate(175.5,3) scale(0.95)" d="M4,-20 L2,-15 M2,-14 L10,-14 M6,-21 L6,2 M1,-6 L10,-9 M14,-21 L11,-14 M13,-17 L23,-17 L22,0 L19,-1 M16,-16 L12,-6 M19,-16 L14,-3" fill="none" stroke-width="1.5"/></g><g transform="translate(236,163) rotate(-45)"><text x="6.75" y="0" text-anchor="middle" font-size="22">C</text><text x="20.25" y="0" text-anchor="middle" font-size="21">o</text><text x="33.75" y="0" text-anchor="middle" font-size="21">b</text><text x="47.25" y="0" text-anchor="middle" font-size="21">i</text><text x="60.75" y="0" text-anchor="middle" font-size="21">o</text><text x="74.25" y="0" text-anchor="middle" font-size="21">e</text><text x="87.75" y="0" text-anchor="middle" font-size="21">r</text><path transform="translate(94.5,3) scale(0.95)" d="M9,-21 L3,-18 M1,-14 L11,-14 M6,-19 L6,2 M6,-13 L1,-4 M6,-12 L10,-8 M14,-18 L16,-16 M14,-13 L16,-11 M12,-6 L24,-8 M20,-21 L20,2" fill="none" stroke-width="1.5"/><path transform="translate(121.5,3) scale(0.95)" d="M5,-21 L1,-12 M3,-15 L3,2 M8,-19 L23,-19 M15,-19 L13,-15 M10,-15 L10,1 M10,-15 L21,-15 L21,1 M10,-7 L21,-7 M10,0 L21,0" fill="none" stroke-width="1.5"/><path transform="translate(148.5,3) scale(0.95)" d="M6,-21 L2,-13 M4,-16 L21,-16 M12,-21 L12,0 M5,-8 L19,-8 M1,0 L23,0" fill="none" stroke-width="1.5"/><path transform="translate(175.5,3) scale(0.95)" d="M4,-20 L2,-15 M2,-14 L10,-14 M6,-21 L6,2 M1,-6 L10,-9 M14,-21 L11,-14 M13,-17 L23,-17 L22,0 L19,-1 M16,-16 L12,-6 M19,-16 L14,-3" fill="none" stroke-width="1.5"/></g><g transform="translate(450,159) rotate(-45)"><text x="6.75" y="0" text-anchor="middle" font-size="22">C</text><text x="20.25" y="0" text-anchor="middle" font-size="21">o</text><text x="33.75" y="0" text-anchor="middle" font-size="21">b</text><text x="47.25" y="0" text-anchor="middle" font-size="21">i</text><text x="60.75" y="0" text-anchor="middle" font-size="21">o</text><text x="74.25" y="0" text-anchor="middle" font-size="21">e</text><text x="87.75" y="0" text-anchor="middle" font-size="21">r</text><path transform="translate(94.5,3) scale(0.95)" d="M9,-21 L3,-18 M1,-14 L11,-14 M6,-19 L6,2 M6,-13 L1,-4 M6,-12 L10,-8 M14,-18 L16,-16 M14,-13 L16,-11 M12,-6 L24,-8 M20,-21 L20,2" fill="none" stroke-width="1.5"/><path transform="translate(121.5,3) scale(0.95)" d="M5,-21 L1,-12 M3,-15 L3,2 M8,-19 L23,-19 M15,-19 L13,-15 M10,-15 L10,1 M10,-15 L21,-15 L21,1 M10,-7 L21,-7 M10,0 L21,0" fill="none" stroke-width="1.5"/><path transform="translate(148.5,3) scale(0.95)" d="M6,-21 L2,-13 M4,-16 L21,-16 M12,-21 L12,0 M5,-8 L19,-8 M1,0 L23,0" fill="none" stroke-width="1.5"/><path transform="translate(175.5,3) scale(0.95)" d="M4,-20 L2,-15 M2,-14 L10,-14 M6,-21 L6,2 M1,-6 L10,-9 M14,-21 L11,-14 M13,-17 L23,-17 L22,0 L19,-1 M16,-16 L12,-6 M19,-16 L14,-3" fill="none" stroke-width="1.5"/></g><g transform="translate(22,415) rotate(-45)"><text x="6.75" y="0" text-anchor="middle" font-size="22">C</text><text x="20.25" y="0" text-anchor="middle" font-size="21">o</text><text x="33.75" y="0" text-anchor="middle" font-size="21">b</text><text x="47.25" y="0" text-anchor="middle" font-size="21">i</text><text x="60.75" y="0" text-anchor="middle" font-size="21">o</text><text x="74.25" y="0" text-anchor="middle" font-size="21">e</text><text x="87.75" y="0" text-anchor="middle" font-size="21">r</text><path transform="translate(94.5,3) scale(0.95)" d="M9,-21 L3,-18 M1,-14 L11,-14 M6,-19 L6,2 M6,-13 L1,-4 M6,-12 L10,-8 M14,-18 L16,-16 M14,-13 L16,-11 M12,-6 L24,-8 M20,-21 L20,2" fill="none" stroke-width="1.5"/><path transform="translate(121.5,3) scale(0.95)" d="M5,-21 L1,-12 M3,-15 L3,2 M8,-19 L23,-19 M15,-19 L13,-15 M10,-15 L10,1 M10,-15 L21,-15 L21,1 M10,-7 L21,-7 M10,0 L21,0" fill="none" stroke-width="1.5"/><path transform="translate(148.5,3) scale(0.95)" d="M6,-21 L2,-13 M4,-16 L21,-16 M12,-21 L12,0 M5,-8 L19,-8 M1,0 L23,0" fill="none" stroke-width="1.5"/><path transform="translate(175.5,3) scale(0.95)" d="M4,-20 L2,-15 M2,-14 L10,-14 M6,-21 L6,2 M1,-6 L10,-9 M14,-21 L11,-14 M13,-17 L23,-17 L22,0 L19,-1 M16,-16 L12,-6 M19,-16 L14,-3" fill="none" stroke-width="1.5"/></g><g transform="translate(236,415) rotate(-45)"><text x="6.75" y="0" text-anchor="middle" font-size="22">C</text><text x="20.25" y="0" text-anchor="middle" font-size="21">o</text><text x="33.75" y="0" text-anchor="middle" font-size="21">b</text><text x="47.25" y="0" text-anchor="middle" font-size="21">i</text><text x="60.75" y="0" text-anchor="middle" font-size="21">o</text><text x="74.25" y="0" text-anchor="middle" font-size="21">e</text><text x="87.75" y="0" text-anchor="middle" font-size="21">r</text><path transform="translate(94.5,3) scale(0.95)" d="M9,-21 L3,-18 M1,-14 L11,-14 M6,-19 L6,2 M6,-13 L1,-4 M6,-12 L10,-8 M14,-18 L16,-16 M14,-13 L16,-11 M12,-6 L24,-8 M20,-21 L20,2" fill="none" stroke-width="1.5"/><path transform="translate(121.5,3) scale(0.95)" d="M5,-21 L1,-12 M3,-15 L3,2 M8,-19 L23,-19 M15,-19 L13,-15 M10,-15 L10,1 M10,-15 L21,-15 L21,1 M10,-7 L21,-7 M10,0 L21,0" fill="none" stroke-width="1.5"/><path transform="translate(148.5,3) scale(0.95)" d="M6,-21 L2,-13 M4,-16 L21,-16 M12,-21 L12,0 M5,-8 L19,-8 M1,0 L23,0" fill="none" stroke-width="1.5"/><path transform="translate(175.5,3) scale(0.95)" d="M4,-20 L2,-15 M2,-14 L10,-14 M6,-21 L6,2 M1,-6 L10,-9 M14,-21 L11,-14 M13,-17 L23,-17 L22,0 L19,-1 M16,-16 L12,-6 M19,-16 L14,-3" fill="none" stroke-width="1.5"/></g><g transform="translate(450,413) rotate(-45)"><text x="6.75" y="0" text-anchor="middle" font-size="22">C</text><text x="20.25" y="0" text-anchor="middle" font-size="21">o</text><text x="33.75" y="0" text-anchor="middle" font-size="21">b</text><text x="47.25" y="0" text-anchor="middle" font-size="21">i</text><text x="60.75" y="0" text-anchor="middle" font-size="21">o</text><text x="74.25" y="0" text-anchor="middle" font-size="21">e</text><text x="87.75" y="0" text-anchor="middle" font-size="21">r</text><path transform="translate(94.5,3) scale(0.95)" d="M9,-21 L3,-18 M1,-14 L11,-14 M6,-19 L6,2 M6,-13 L1,-4 M6,-12 L10,-8 M14,-18 L16,-16 M14,-13 L16,-11 M12,-6 L24,-8 M20,-21 L20,2" fill="none" stroke-width="1.5"/><path transform="translate(121.5,3) scale(0.95)" d="M5,-21 L1,-12 M3,-15 L3,2 M8,-19 L23,-19 M15,-19 L13,-15 M10,-15 L10,1 M10,-15 L21,-15 L21,1 M10,-7 L21,-7 M10,0 L21,0" fill="none" stroke-width="1.5"/><path transform="translate(148.5,3) scale(0.95)" d="M6,-21 L2,-13 M4,-16 L21,-16 M12,-21 L12,0 M5,-8 L19,-8 M1,0 L23,0" fill="none" stroke-width="1.5"/><path transform="translate(175.5,3) scale(0.95)" d="M4,-20 L2,-15 M2,-14 L10,-14 M6,-21 L6,2 M1,-6 L10,-9 M14,-21 L11,-14 M13,-17 L23,-17 L22,0 L19,-1 M16,-16 L12,-6 M19,-16 L14,-3" fill="none" stroke-width="1.5"/></g><g transform="translate(22,665) rotate(-45)"><text x="6.75" y="0" text-anchor="middle" font-size="22">C</text><text x="20.25" y="0" text-anchor="middle" font-size="21">o</text><text x="33.75" y="0" text-anchor="middle" font-size="21">b</text><text x="47.25" y="0" text-anchor="middle" font-size="21">i</text><text x="60.75" y="0" text-anchor="middle" font-size="21">o</text><text x="74.25" y="0" text-anchor="middle" font-size="21">e</text><text x="87.75" y="0" text-anchor="middle" font-size="21">r</text><path transform="translate(94.5,3) scale(0.95)" d="M9,-21 L3,-18 M1,-14 L11,-14 M6,-19 L6,2 M6,-13 L1,-4 M6,-12 L10,-8 M14,-18 L16,-16 M14,-13 L16,-11 M12,-6 L24,-8 M20,-21 L20,2" fill="none" stroke-width="1.5"/><path transform="translate(121.5,3) scale(0.95)" d="M5,-21 L1,-12 M3,-15 L3,2 M8,-19 L23,-19 M15,-19 L13,-15 M10,-15 L10,1 M10,-15 L21,-15 L21,1 M10,-7 L21,-7 M10,0 L21,0" fill="none" stroke-width="1.5"/><path transform="translate(148.5,3) scale(0.95)" d="M6,-21 L2,-13 M4,-16 L21,-16 M12,-21 L12,0 M5,-8 L19,-8 M1,0 L23,0" fill="none" stroke-width="1.5"/><path transform="translate(175.5,3) scale(0.95)" d="M4,-20 L2,-15 M2,-14 L10,-14 M6,-21 L6,2 M1,-6 L10,-9 M14,-21 L11,-14 M13,-17 L23,-17 L22,0 L19,-1 M16,-16 L12,-6 M19,-16 L14,-3" fill="none" stroke-width="1.5"/></g><g transform="translate(236,665) rotate(-45)"><text x="6.75" y="0" text-anchor="middle" font-size="22">C</text><text x="20.25" y="0" text-anchor="middle" font-size="21">o</text><text x="33.75" y="0" text-anchor="middle" font-size="21">b</text><text x="47.25" y="0" text-anchor="middle" font-size="21">i</text><text x="60.75" y="0" text-anchor="middle" font-size="21">o</text><text x="74.25" y="0" text-anchor="middle" font-size="21">e</text><text x="87.75" y="0" text-anchor="middle" font-size="21">r</text><path transform="translate(94.5,3) scale(0.95)" d="M9,-21 L3,-18 M1,-14 L11,-14 M6,-19 L6,2 M6,-13 L1,-4 M6,-12 L10,-8 M14,-18 L16,-16 M14,-13 L16,-11 M12,-6 L24,-8 M20,-21 L20,2" fill="none" stroke-width="1.5"/><path transform="translate(121.5,3) scale(0.95)" d="M5,-21 L1,-12 M3,-15 L3,2 M8,-19 L23,-19 M15,-19 L13,-15 M10,-15 L10,1 M10,-15 L21,-15 L21,1 M10,-7 L21,-7 M10,0 L21,0" fill="none" stroke-width="1.5"/><path transform="translate(148.5,3) scale(0.95)" d="M6,-21 L2,-13 M4,-16 L21,-16 M12,-21 L12,0 M5,-8 L19,-8 M1,0 L23,0" fill="none" stroke-width="1.5"/><path transform="translate(175.5,3) scale(0.95)" d="M4,-20 L2,-15 M2,-14 L10,-14 M6,-21 L6,2 M1,-6 L10,-9 M14,-21 L11,-14 M13,-17 L23,-17 L22,0 L19,-1 M16,-16 L12,-6 M19,-16 L14,-3" fill="none" stroke-width="1.5"/></g><g transform="translate(450,663) rotate(-45)"><text x="6.75" y="0" text-anchor="middle" font-size="22">C</text><text x="20.25" y="0" text-anchor="middle" font-size="21">o</text><text x="33.75" y="0" text-anchor="middle" font-size="21">b</text><text x="47.25" y="0" text-anchor="middle" font-size="21">i</text><text x="60.75" y="0" text-anchor="middle" font-size="21">o</text><text x="74.25" y="0" text-anchor="middle" font-size="21">e</text><text x="87.75" y="0" text-anchor="middle" font-size="21">r</text><path transform="translate(94.5,3) scale(0.95)" d="M9,-21 L3,-18 M1,-14 L11,-14 M6,-19 L6,2 M6,-13 L1,-4 M6,-12 L10,-8 M14,-18 L16,-16 M14,-13 L16,-11 M12,-6 L24,-8 M20,-21 L20,2" fill="none" stroke-width="1.5"/><path transform="translate(121.5,3) scale(0.95)" d="M5,-21 L1,-12 M3,-15 L3,2 M8,-19 L23,-19 M15,-19 L13,-15 M10,-15 L10,1 M10,-15 L21,-15 L21,1 M10,-7 L21,-7 M10,0 L21,0" fill="none" stroke-width="1.5"/><path transform="translate(148.5,3) scale(0.95)" d="M6,-21 L2,-13 M4,-16 L21,-16 M12,-21 L12,0 M5,-8 L19,-8 M1,0 L23,0" fill="none" stroke-width="1.5"/><path transform="translate(175.5,3) scale(0.95)" d="M4,-20 L2,-15 M2,-14 L10,-14 M6,-21 L6,2 M1,-6 L10,-9 M14,-21 L11,-14 M13,-17 L23,-17 L22,0 L19,-1 M16,-16 L12,-6 M19,-16 L14,-3" fill="none" stroke-width="1.5"/></g></g></g>
</svg>
</body></html>
